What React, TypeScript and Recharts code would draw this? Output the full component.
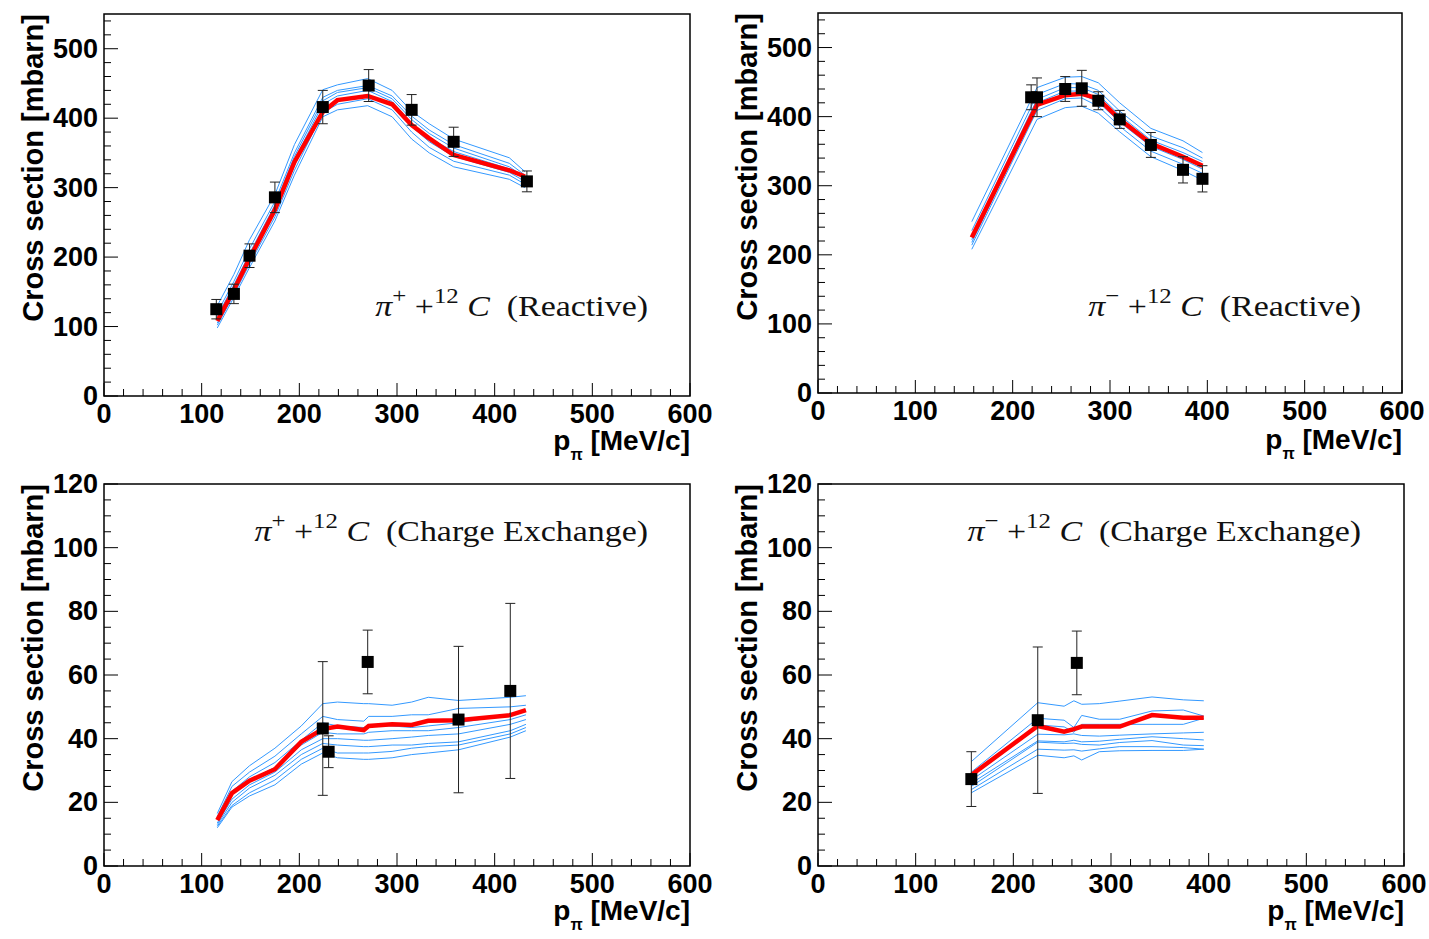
import React from 'react';
import { ComposedChart, Line, Scatter, ErrorBar, XAxis, YAxis, ReferenceArea } from 'recharts';

// axis ticks
const xMajor = [0, 100, 200, 300, 400, 500, 600];
const reactiveYMajor = [0, 100, 200, 300, 400, 500];
const cexYMajor = [0, 20, 40, 60, 80, 100, 120];

// pi+ 12C reactive
const p1DataP = [115, 133, 149, 175, 224, 271, 315, 358, 433];
const p1DataXS = [125, 147, 202, 286, 416, 447, 412, 366, 309];
const p1DataErr = [14, 14, 17, 22, 24, 23, 22, 21, 15];
const p1SimP = [116, 133, 149, 175, 195, 224, 239, 270, 295, 315, 333, 358, 415, 431];
const p1Red = [108, 153, 198, 268, 337, 409, 426, 432, 420, 390, 371, 347, 325, 316];
const p1Blue = [
  [130, 175, 225, 290, 362, 441, 448, 457, 440, 410, 392, 370, 343, 323],
  [120, 165, 212, 280, 350, 430, 440, 447, 432, 403, 383, 362, 335, 318],
  [115, 160, 205, 275, 345, 425, 437, 444, 428, 398, 378, 357, 330, 315],
  [110, 155, 200, 270, 340, 420, 432, 440, 424, 393, 372, 352, 327, 312],
  [105, 150, 195, 265, 332, 414, 426, 434, 418, 388, 366, 345, 322, 309],
  [102, 146, 190, 258, 325, 408, 420, 428, 412, 380, 358, 338, 318, 305],
  [98, 142, 185, 252, 318, 402, 412, 418, 402, 370, 350, 330, 312, 300],
];

// pi- 12C reactive
const p2DataP = [219, 225, 254, 271, 288, 310, 342, 375, 395];
const p2DataXS = [428, 428, 440, 441, 423, 396, 359, 323, 310];
const p2DataErr = [18, 28, 18, 26, 13, 13, 18, 19, 19];
const p2SimP = [158, 225, 254, 271, 288, 310, 342, 375, 395];
const p2Red = [225, 417, 431, 433, 426, 396, 361, 342, 329];
const p2Blue = [
  [248, 442, 457, 458, 449, 420, 383, 365, 348],
  [235, 432, 448, 447, 438, 408, 372, 355, 340],
  [228, 425, 442, 442, 432, 402, 366, 348, 335],
  [222, 420, 437, 437, 426, 397, 362, 343, 330],
  [218, 415, 432, 432, 421, 392, 357, 338, 324],
  [214, 409, 426, 427, 415, 386, 350, 331, 318],
  [208, 396, 413, 415, 405, 378, 342, 322, 308],
];

// pi+ 12C charge exchange
const p3DataP = [224, 230, 270, 363, 416];
const p3DataXS = [43.2, 35.9, 64.1, 46, 55];
const p3DataErr = [21, 5, 10, 23, 27.5];
const p3SimP = [116, 131, 149, 175, 202, 224, 239, 266, 271, 295, 315, 332, 363, 416, 432];
const p3Red = [14.4, 22.9, 26.8, 30.4, 39, 43, 43.8, 42.7, 44, 44.5, 44.3, 45.6, 45.8, 47.4, 49];
const p3Blue = [
  [16.5, 26.5, 31.5, 37, 44, 51, 51.5, 51, 51, 50.5, 51.5, 53, 52, 53, 53.5],
  [15.5, 25, 29.5, 34.5, 41.5, 47, 46, 45.5, 47, 47, 47.5, 47.5, 49.5, 50, 50.5],
  [15, 23.5, 28, 32.5, 39.5, 45, 44, 43.5, 44, 44, 43.5, 44, 45, 47.5, 49],
  [14.5, 22.5, 27, 31, 38, 42, 41.5, 41.5, 42, 42.5, 42.5, 42.5, 43.5, 46, 47.5],
  [13.5, 21, 25.5, 29.5, 36.5, 40, 40, 39.5, 39.5, 40, 40.5, 41, 41.5, 44.5, 46],
  [13, 20, 24.5, 28.5, 35, 38.5, 38, 37.5, 37.5, 38, 38, 38.5, 39, 42.5, 44.5],
  [12.5, 19, 23, 27, 33.5, 37, 35.5, 35.5, 35.5, 36, 37, 37.5, 38, 41.5, 43.5],
  [12, 18.5, 22, 25.5, 32, 35.5, 34, 33.5, 33.5, 34, 35, 35.5, 36.5, 40.5, 42.5],
];

// pi- 12C charge exchange
const p4DataP = [157, 225, 265];
const p4DataXS = [27.3, 45.8, 63.8];
const p4DataErr = [8.6, 23, 10];
const p4SimP = [157, 225, 252, 262, 270, 288, 309, 342, 374, 395];
const p4Red = [28.6, 44, 42.2, 43, 43.8, 43.8, 43.8, 47.4, 46.6, 46.6];
const p4Blue = [
  [32.8, 51.3, 50.2, 51.9, 50.8, 51, 51.8, 53.1, 52.2, 51.9],
  [29.5, 46.4, 45.8, 43.5, 47.3, 46.1, 46.1, 48.7, 49, 47.1],
  [28, 44.3, 43.7, 42, 44.5, 44.5, 44.5, 44.5, 44.5, 46.4],
  [27, 41.4, 41.2, 41.5, 41, 40.8, 41.1, 41.5, 41.8, 42],
  [26, 39.3, 39, 39.5, 39, 39.2, 39.8, 40.6, 40, 39.6],
  [25, 38.9, 38.5, 38.6, 38.2, 38, 38.8, 39.4, 38, 37.8],
  [24, 36.7, 36.4, 36.5, 36.1, 36.8, 37.5, 37.5, 37.2, 36.7],
  [23, 34.8, 34, 34.6, 33.3, 35.9, 36.2, 36.3, 36.3, 36.7],
];

const SANS = '"Liberation Sans", Arial, Helvetica, sans-serif';
const SERIF = '"Liberation Serif", "Times New Roman", serif';
const BLUE = '#3399ff';

const zip = (xs: number[], ys: number[]) => xs.map((x, i) => ({ x, y: ys[i] }));

const Square = (props: any) => {
  const { cx, cy } = props;
  return <rect x={cx - 6} y={cy - 6} width={12} height={12} fill="#000" />;
};

function Panel(props: any) {
  const { left, top, width, height, yMax, yStep, yMajor, simP, red, blue, dataP, dataXS, dataErr } = props;
  const xTicks = Array.from({ length: 31 }, (_, i) => i * 20);
  const yTicks = Array.from({ length: Math.floor(yMax / yStep) + 1 }, (_, i) => i * yStep);
  const pts = dataP.map((x: number, i: number) => ({ x, y: dataXS[i], err: dataErr[i] }));

  const xTick = (p: any) => {
    const major = xMajor.includes(p.payload.value);
    return (
      <g>
        <line x1={p.x} y1={p.y} x2={p.x} y2={p.y - (major ? 13 : 7)} stroke="#000" strokeWidth={1} />
        {major && (
          <text x={p.x} y={p.y + 27} textAnchor="middle" fontFamily={SANS} fontWeight="bold" fontSize={27} fill="#000">
            {p.payload.value}
          </text>
        )}
      </g>
    );
  };
  const yTick = (p: any) => {
    const major = yMajor.includes(p.payload.value);
    return (
      <g>
        <line x1={p.x} y1={p.y} x2={p.x + (major ? 14 : 7)} y2={p.y} stroke="#000" strokeWidth={1} />
        {major && (
          <text x={p.x - 6} y={p.y + 9} textAnchor="end" fontFamily={SANS} fontWeight="bold" fontSize={27} fill="#000">
            {p.payload.value}
          </text>
        )}
      </g>
    );
  };

  return (
    <div style={{ position: 'absolute', left: left - 100, top: top - 14 }}>
      <ComposedChart
        width={width + 150}
        height={height + 14 + 50}
        margin={{ top: 14, right: 50, left: 0, bottom: 0 }}
      >
        <XAxis
          dataKey="x"
          type="number"
          domain={[0, 600]}
          ticks={xTicks}
          interval={0}
          allowDataOverflow
          height={50}
          tickSize={0}
          tickMargin={0}
          axisLine={false}
          tickLine={false}
          tick={xTick}
        />
        <YAxis
          type="number"
          domain={[0, yMax]}
          ticks={yTicks}
          interval={0}
          allowDataOverflow
          width={100}
          tickSize={0}
          tickMargin={0}
          axisLine={false}
          tickLine={false}
          tick={yTick}
        />
        {blue.map((ys: number[], i: number) => (
          <Line
            key={'b' + i}
            data={zip(simP, ys)}
            dataKey="y"
            type="linear"
            dot={false}
            stroke={BLUE}
            strokeWidth={1}
            isAnimationActive={false}
          />
        ))}
        <Line
          data={zip(simP, red)}
          dataKey="y"
          type="linear"
          dot={false}
          stroke="#ff0000"
          strokeWidth={4.5}
          isAnimationActive={false}
        />
        <Scatter data={pts} dataKey="y" shape={Square} isAnimationActive={false}>
          <ErrorBar dataKey="err" direction="y" width={5} stroke="#222" strokeWidth={1} />
        </Scatter>
        <ReferenceArea x1={0} x2={600} y1={0} y2={yMax} fill="none" stroke="#000" strokeWidth={1.5} ifOverflow="visible" />
      </ComposedChart>
    </div>
  );
}

function YTitle({ x, plotTop }: any) {
  return (
    <div
      style={{
        position: 'absolute',
        left: x - 200,
        top: plotTop + 200 - 18,
        width: 400,
        height: 36,
        lineHeight: '36px',
        textAlign: 'right',
        transform: 'rotate(-90deg)',
        fontFamily: SANS,
        fontWeight: 'bold',
        fontSize: 29,
        whiteSpace: 'nowrap',
      }}
    >
      Cross section [mbarn]
    </div>
  );
}

function XTitle({ right, cy }: any) {
  return (
    <div
      style={{
        position: 'absolute',
        left: right - 300,
        top: cy - 18,
        width: 300,
        height: 36,
        lineHeight: '36px',
        textAlign: 'right',
        fontFamily: SANS,
        fontWeight: 'bold',
        fontSize: 28,
        whiteSpace: 'nowrap',
      }}
    >
      p<sub style={{ fontSize: 16, verticalAlign: -10, lineHeight: 0 }}>π</sub> [MeV/c]
    </div>
  );
}

function Note({ right, cy, charge, kind }: any) {
  const sup = { fontSize: 22, verticalAlign: 13, lineHeight: 0 };
  return (
    <div
      style={{
        position: 'absolute',
        left: right - 500,
        top: cy - 20,
        width: 500,
        height: 40,
        lineHeight: '40px',
        textAlign: 'right',
        fontFamily: SERIF,
        fontSize: 30,
        whiteSpace: 'nowrap',
        color: '#111',
        transform: 'scaleX(1.13)',
        transformOrigin: '100% 50%',
      }}
    >
      <i>π</i>
      <span style={sup}>{charge}</span>&nbsp;+<span style={sup}>12</span>&nbsp;<i>C</i>&nbsp;&nbsp;({kind})
    </div>
  );
}

export default function App() {
  return (
    <div style={{ position: 'absolute', left: 0, top: 0, width: 1429, height: 939, background: '#fff', overflow: 'hidden' }}>
      <Panel left={104} top={14} width={586} height={382} yMax={550} yStep={20} yMajor={reactiveYMajor}
        simP={p1SimP} red={p1Red} blue={p1Blue} dataP={p1DataP} dataXS={p1DataXS} dataErr={p1DataErr} />
      <Panel left={818} top={13} width={584} height={380} yMax={550} yStep={20} yMajor={reactiveYMajor}
        simP={p2SimP} red={p2Red} blue={p2Blue} dataP={p2DataP} dataXS={p2DataXS} dataErr={p2DataErr} />
      <Panel left={104} top={484} width={586} height={382} yMax={120} yStep={5} yMajor={cexYMajor}
        simP={p3SimP} red={p3Red} blue={p3Blue} dataP={p3DataP} dataXS={p3DataXS} dataErr={p3DataErr} />
      <Panel left={818} top={484} width={586} height={382} yMax={120} yStep={5} yMajor={cexYMajor}
        simP={p4SimP} red={p4Red} blue={p4Blue} dataP={p4DataP} dataXS={p4DataXS} dataErr={p4DataErr} />

      <YTitle x={33} plotTop={14} />
      <YTitle x={747} plotTop={13} />
      <YTitle x={33} plotTop={484} />
      <YTitle x={747} plotTop={484} />

      <XTitle right={690} cy={441} />
      <XTitle right={1402} cy={440} />
      <XTitle right={690} cy={911} />
      <XTitle right={1404} cy={911} />

      <Note right={648} cy={306} charge="+" kind="Reactive" />
      <Note right={1361} cy={306} charge="−" kind="Reactive" />
      <Note right={648} cy={531} charge="+" kind="Charge Exchange" />
      <Note right={1361} cy={531} charge="−" kind="Charge Exchange" />
    </div>
  );
}
